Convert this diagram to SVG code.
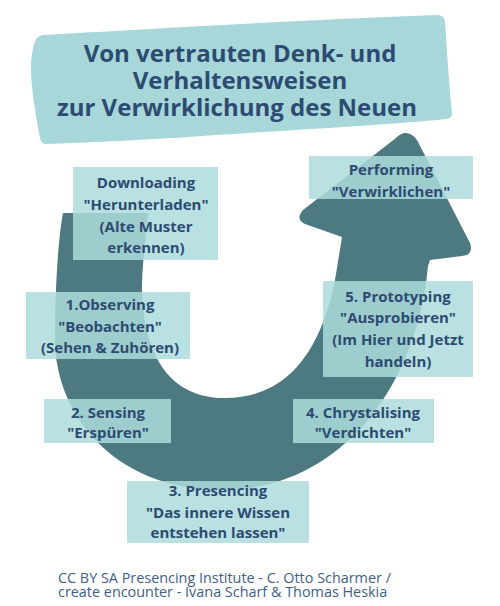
<svg xmlns="http://www.w3.org/2000/svg" width="500" height="606" viewBox="0 0 500 606">
<style>
.box{fill:#addcdc;fill-opacity:0.85}
.t{font-family:"Open Sans","Liberation Sans",sans-serif;font-weight:bold;font-size:15px;fill:#2d4b72;text-anchor:middle}
.title{font-family:"Open Sans","Liberation Sans",sans-serif;font-weight:bold;font-size:24px;fill:#2d4b72;text-anchor:middle}
.foot{font-family:"Open Sans","Liberation Sans",sans-serif;font-size:14.4px;fill:#3d5f8a}
</style>
<rect width="500" height="606" fill="#ffffff"/>
<g id="banner">
<path d="M42,35 C150,29 300,20 438,15 Q444,15 445,22 C447,50 449,85 452,112 Q453,118 446,119 C380,126 250,132 173,138 C120,141 80,143 46,144 Q41,144 40,138 C36,115 31,90 31,68 C31,55 34,40 38,37 Z" fill="#a7d7d8"/>
<text class="title" x="240" y="62">Von vertrauten Denk- und</text>
<text class="title" x="240" y="89">Verhaltensweisen</text>
<text class="title" x="237" y="116">zur Verwirklichung des Neuen</text>
</g>
<g id="connectors">
<path id="u-arrow" d="M63,213 L148,213 L143,265 C138,320 150,398 225,398 C300,398 325,330 335,280 L342,237 L305,224 Q295,219 303,210 L396,138 Q407,127 417,140 L470,243 Q474,255 462,256 L430,260 L428,266 C415,400 330,490 223,490 C110,490 55,410 55,340 C55,290 58,240 63,213 Z" fill="#4d7980"/>
</g>
<g id="downloading">
<rect class="box" x="73" y="167" width="145" height="93"/>
<text class="t" x="146" y="188">Downloading</text>
<text class="t" x="146" y="210">"Herunterladen"</text>
<text class="t" x="146" y="232">(Alte Muster</text>
<text class="t" x="146" y="253">erkennen)</text>
</g>
<g id="observing">
<rect class="box" x="26" y="292" width="164" height="67"/>
<text class="t" x="110" y="310">1.Observing</text>
<text class="t" x="110" y="332">"Beobachten"</text>
<text class="t" x="110" y="353">(Sehen &amp; Zuhören)</text>
</g>
<g id="sensing">
<rect class="box" x="44" y="399" width="127" height="44"/>
<text class="t" x="108" y="418">2. Sensing</text>
<text class="t" x="108" y="438">"Erspüren"</text>
</g>
<g id="presencing">
<rect class="box" x="127" y="481" width="182" height="62"/>
<text class="t" x="218" y="496">3. Presencing</text>
<text class="t" x="218" y="518">"Das innere Wissen</text>
<text class="t" x="218" y="538">entstehen lassen"</text>
</g>
<g id="chrystalising">
<rect class="box" x="293" y="399" width="141" height="44"/>
<text class="t" x="363" y="418">4. Chrystalising</text>
<text class="t" x="363" y="438">"Verdichten"</text>
</g>
<g id="prototyping">
<rect class="box" x="323" y="281" width="150" height="96"/>
<text class="t" x="398" y="302">5. Prototyping</text>
<text class="t" x="398" y="323">"Ausprobieren"</text>
<text class="t" x="398" y="345">(Im Hier und Jetzt</text>
<text class="t" x="398" y="367">handeln)</text>
</g>
<g id="performing">
<rect class="box" x="309" y="156" width="164" height="43"/>
<text class="t" x="391" y="175">Performing</text>
<text class="t" x="391" y="197">"Verwirklichen"</text>
</g>
<g id="footer">
<text class="foot" x="58" y="583">CC BY SA Presencing Institute - C. Otto Scharmer /</text>
<text class="foot" x="58" y="597">create encounter - Ivana Scharf &amp; Thomas Heskia</text>
</g>
</svg>
